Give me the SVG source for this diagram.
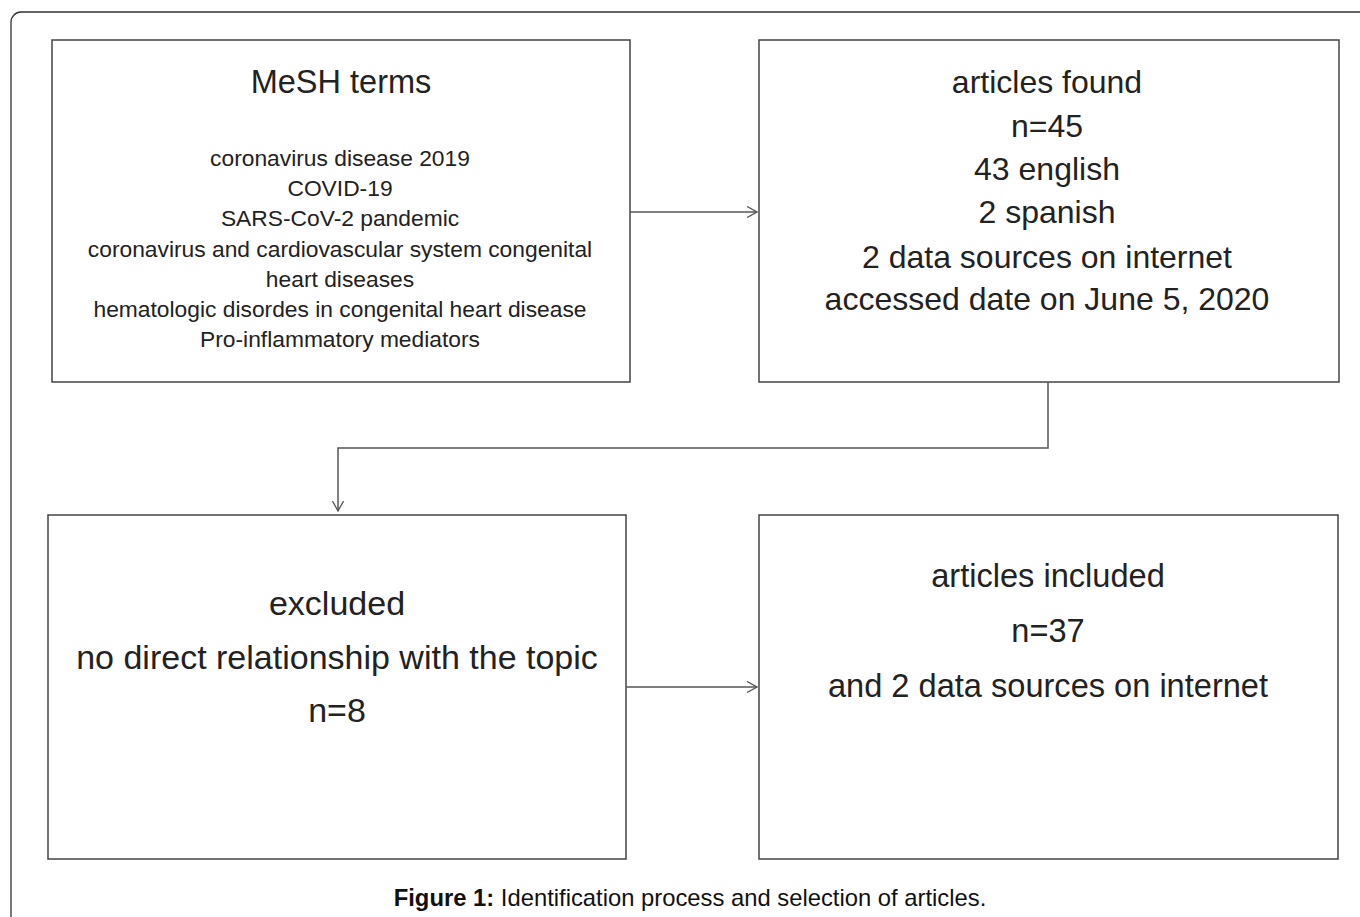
<svg xmlns="http://www.w3.org/2000/svg" width="1360" height="917" viewBox="0 0 1360 917">
<style>
.box{fill:#fff;stroke:#444;stroke-width:1.5}
.frame{fill:#fff;stroke:#333;stroke-width:1.3}
.lg{font-family:"Liberation Sans",Arial,sans-serif;font-size:32px;fill:#222;text-anchor:middle}
.sm{font-family:"Liberation Sans",Arial,sans-serif;font-size:22.8px;fill:#222;text-anchor:middle}
.cap{font-family:"Liberation Sans",Arial,sans-serif;font-size:23.8px;fill:#111;text-anchor:middle}
.conn{fill:none;stroke:#555;stroke-width:1.5}
</style>
<defs>
<marker id="arr" viewBox="0 0 12 12" refX="11" refY="6" markerWidth="12" markerHeight="12" markerUnits="userSpaceOnUse" orient="auto">
<path d="M1,0.5 L11,6 L1,11.5" fill="none" stroke="#555" stroke-width="1.3"/>
</marker>
</defs>
<rect width="1360" height="917" fill="#fff"/>
<rect class="frame" x="11" y="12" width="1380" height="940" rx="10"/>
<g id="mesh">
<rect class="box" x="52" y="40" width="578" height="342"/>
<text class="lg" x="341" y="93" style="font-size:32.5px">MeSH terms</text>
<text class="sm" x="340" y="166">coronavirus disease 2019</text>
<text class="sm" x="340" y="196">COVID-19</text>
<text class="sm" x="340" y="226">SARS-CoV-2 pandemic</text>
<text class="sm" x="340" y="257">coronavirus and cardiovascular system congenital</text>
<text class="sm" x="340" y="287">heart diseases</text>
<text class="sm" x="340" y="317">hematologic disordes in congenital heart disease</text>
<text class="sm" x="340" y="347">Pro-inflammatory mediators</text>
</g>
<g id="found">
<rect class="box" x="759" y="40" width="580" height="342"/>
<text class="lg" x="1047" y="93">articles found</text>
<text class="lg" x="1047" y="137">n=45</text>
<text class="lg" x="1047" y="180">43 english</text>
<text class="lg" x="1047" y="223">2 spanish</text>
<text class="lg" x="1047" y="268">2 data sources on internet</text>
<text class="lg" x="1047" y="310">accessed date on June 5, 2020</text>
</g>
<g id="excluded">
<rect class="box" x="48" y="515" width="578" height="344"/>
<text class="lg" x="337" y="615" style="font-size:34px">excluded</text>
<text class="lg" x="337" y="669" style="font-size:34px">no direct relationship with the topic</text>
<text class="lg" x="337" y="722" style="font-size:34px">n=8</text>
</g>
<g id="included">
<rect class="box" x="759" y="515" width="579" height="344"/>
<text class="lg" x="1048" y="587" style="font-size:32.6px">articles included</text>
<text class="lg" x="1048" y="642" style="font-size:32.6px">n=37</text>
<text class="lg" x="1048" y="697" style="font-size:32.6px">and 2 data sources on internet</text>
</g>
<g id="connectors">
<line class="conn" x1="630" y1="212" x2="757" y2="212" marker-end="url(#arr)"/>
<polyline class="conn" points="1048,382 1048,448 338,448 338,511" marker-end="url(#arr)"/>
<line class="conn" x1="626" y1="687" x2="757" y2="687" marker-end="url(#arr)"/>
</g>
<text class="cap" x="690" y="906"><tspan font-weight="bold">Figure 1:</tspan> Identification process and selection of articles.</text>
</svg>
